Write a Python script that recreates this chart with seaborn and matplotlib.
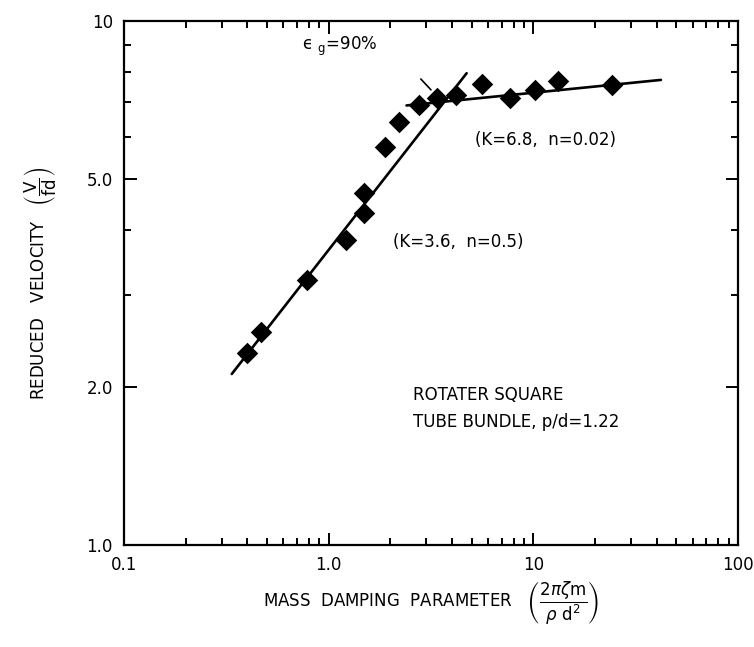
import numpy as np
import pandas as pd
import matplotlib
matplotlib.use("Agg")
import matplotlib.pyplot as plt
import matplotlib.ticker as mticker
import seaborn as sns

# measured points (mass damping parameter, reduced velocity)
mass_damping = [0.40, 0.465, 0.78, 1.21, 1.49, 1.49, 1.88, 2.21, 2.76, 3.39,
                4.18, 5.63, 7.7, 10.2, 13.2, 24.2]
reduced_velocity = [2.32, 2.55, 3.20, 3.82, 4.30, 4.69, 5.75, 6.43, 6.92, 7.13,
                    7.24, 7.57, 7.13, 7.38, 7.68, 7.56]

# fitted lines, end points
fit_low_x = [0.336, 4.72]      # K=3.6, n=0.5
fit_low_y = [2.12, 7.95]
fit_high_x = [2.4, 42.0]       # K=6.8, n=0.02
fit_high_y = [6.90, 7.72]

# leader line for the eps_g label
leader_x = [2.82, 3.16]
leader_y = [7.75, 7.39]

x_ticks = [0.1, 1.0, 10, 100]
x_ticklabels = ["0.1", "1.0", "10", "100"]
y_ticks = [1.0, 2.0, 5.0, 10]
y_ticklabels = ["1.0", "2.0", "5.0", "10"]

sns.set_style("ticks", {"axes.edgecolor": "black", "text.color": "black",
                        "axes.labelcolor": "black", "xtick.color": "black",
                        "ytick.color": "black"})
plt.rcParams["font.family"] = ["DejaVu Sans"]

fig = plt.figure(figsize=(7.54, 6.47), dpi=100)
ax = fig.add_axes([0.1645, 0.1577, 0.8143, 0.8098])

pts = pd.DataFrame({"x": mass_damping, "y": reduced_velocity})
sns.scatterplot(data=pts, x="x", y="y", marker="D", s=120, color="black",
                edgecolor="black", linewidth=0, ax=ax, zorder=3)

for lx, ly in [(fit_low_x, fit_low_y), (fit_high_x, fit_high_y)]:
    seg = pd.DataFrame({"x": lx, "y": ly})
    sns.lineplot(data=seg, x="x", y="y", color="black", linewidth=1.9,
                 estimator=None, sort=False, ax=ax)
ax.plot(leader_x, leader_y, color="black", linewidth=1.2)

ax.set_xscale("log")
ax.set_yscale("log")
ax.set_xlim(0.1, 100)
ax.set_ylim(1.0, 10)

ax.xaxis.set_major_locator(mticker.FixedLocator(x_ticks))
ax.xaxis.set_major_formatter(mticker.FixedFormatter(x_ticklabels))
ax.xaxis.set_minor_locator(mticker.LogLocator(base=10, subs=np.arange(2, 10)))
ax.xaxis.set_minor_formatter(mticker.NullFormatter())

ax.yaxis.set_major_locator(mticker.FixedLocator(y_ticks))
ax.yaxis.set_major_formatter(mticker.FixedFormatter(y_ticklabels))
ax.yaxis.set_minor_locator(mticker.FixedLocator([3, 4, 6, 7, 8, 9]))
ax.yaxis.set_minor_formatter(mticker.NullFormatter())

ax.tick_params(which="both", direction="in", top=True, right=True,
               width=1.4, labelsize=12, pad=8, colors="black")
ax.tick_params(which="major", length=9)
ax.tick_params(which="minor", length=5)
for sp in ax.spines.values():
    sp.set_visible(True)
    sp.set_linewidth(1.6)
    sp.set_color("black")

ax.set_xlabel(r"MASS  DAMPING  PARAMETER   "
              r"$\left(\dfrac{2\pi\zeta \mathrm{m}}{\rho\ \mathrm{d}^2}\right)$",
              fontsize=12, labelpad=4, color="black")
ax.set_ylabel(r"REDUCED   VELOCITY   $\left(\dfrac{\mathrm{V}}{\mathrm{fd}}\right)$",
              fontsize=12, labelpad=20, color="black")

ax.text(0.352, 0.952, "\u03f5 $_{\\mathrm{g}}$=90%", transform=ax.transAxes,
        fontsize=12, ha="center", va="center", color="black")
ax.text(0.687, 0.773, "(K=6.8,  n=0.02)", transform=ax.transAxes,
        fontsize=12, ha="center", va="center", color="black")
ax.text(0.544, 0.578, "(K=3.6,  n=0.5)", transform=ax.transAxes,
        fontsize=12, ha="center", va="center", color="black")
ax.text(0.471, 0.286, "ROTATER SQUARE", transform=ax.transAxes,
        fontsize=12, ha="left", va="center", color="black")
ax.text(0.471, 0.235, "TUBE BUNDLE, p/d=1.22", transform=ax.transAxes,
        fontsize=12, ha="left", va="center", color="black")

fig.savefig("out.png", dpi=100)
plt.close(fig)
